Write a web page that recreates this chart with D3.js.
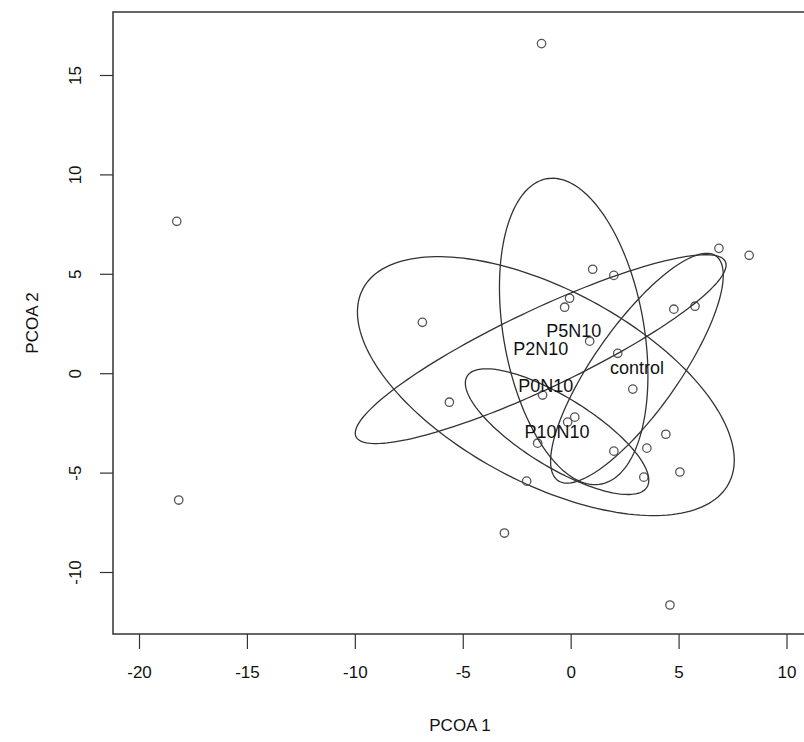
<!DOCTYPE html>
<html>
<head>
<meta charset="utf-8">
<script src="https://cdn.jsdelivr.net/npm/d3@7"></script>
<style>
  html, body { margin: 0; padding: 0; background: #fff; }
  svg { display: block; }
  text { font-family: "Liberation Sans", Arial, Helvetica, sans-serif; fill: #111; }
</style>
</head>
<body>
<script>
// Site scores on the first two PCoA axes
const pcoa1 = [-1.35, -18.25, -18.16, -6.87, -5.62, -3.07, -2.04, -1.53, -0.28, -0.05,
               1.02, 2.0, 0.88, 2.18, 2.88, 0.19, -0.14, 2.0, 3.53, 3.39,
               4.41, 5.06, 4.78, 5.76, 6.87, 8.27, 4.6, -1.3];
const pcoa2 = [16.58, 7.64, -6.38, 2.56, -1.46, -8.04, -5.43, -3.52, 3.32, 3.77,
               5.23, 4.92, 1.61, 1.0, -0.80, -2.21, -2.46, -3.92, -3.77, -5.23,
               -3.07, -4.97, 3.22, 3.37, 6.28, 5.93, -11.66, -1.1];

// Treatment groups: centroid and dispersion (covariance) of each ellipse
const groups  = ["P5N10", "P0N10", "P10N10", "P2N10", "control"];
const centerX = [0.14, -1.15, -0.63, -1.39, 3.07];
const centerY = [2.1, -0.65, -2.94, 1.21, 0.25];
const varX    = [11.83, 76.2, 18.06, 73.8, 16.0];
const varY    = [59.4, 42.4, 10.0, 22.56, 33.4];
const covXY   = [-7.6, -32.5, -10.37, 36.3, 18.7];

const xTicks = [-20, -15, -10, -5, 0, 5, 10];
const yTicks = [-10, -5, 0, 5, 10, 15];

const W = 804, H = 742;
const box = { left: 113, right: 807, top: 12, bottom: 634 };

const x = d3.scaleLinear().domain([-20, 10]).range([139, 786.5]);
const y = d3.scaleLinear().domain([-10, 15]).range([572, 75]);

// plain hyphen-minus for negative tick labels
const fmt = d => String(d);

const svg = d3.select("body").append("svg")
  .attr("width", W).attr("height", H);

// plot frame
svg.append("rect")
  .attr("x", box.left).attr("y", box.top)
  .attr("width", box.right - box.left).attr("height", box.bottom - box.top)
  .attr("fill", "none").attr("stroke", "#333").attr("stroke-width", 1.5);

// x axis
const xAxis = svg.append("g")
  .attr("transform", `translate(0,${box.bottom})`)
  .call(d3.axisBottom(x).tickValues(xTicks).tickSize(15).tickPadding(17).tickFormat(fmt));
xAxis.select(".domain").remove();
xAxis.selectAll(".tick line").attr("stroke", "#333").attr("stroke-width", 1.2);
xAxis.selectAll(".tick text").attr("font-size", 17).style("fill", "#111");

// y axis with rotated labels
const yAxis = svg.append("g")
  .attr("transform", `translate(${box.left},0)`)
  .call(d3.axisLeft(y).tickValues(yTicks).tickSize(13).tickFormat(fmt));
yAxis.select(".domain").remove();
yAxis.selectAll(".tick line").attr("stroke", "#333").attr("stroke-width", 1.2);
yAxis.selectAll(".tick text")
  .attr("font-size", 17).style("fill", "#111")
  .attr("x", 0).attr("dy", 0)
  .attr("text-anchor", "middle")
  .attr("transform", "translate(-38,0) rotate(-90)")
  .attr("dominant-baseline", "central");

// axis titles
svg.append("text")
  .attr("x", (box.left + box.right) / 2).attr("y", 731)
  .attr("text-anchor", "middle").attr("font-size", 17)
  .text("PCOA 1");
svg.append("text")
  .attr("transform", `translate(32,${(box.top + box.bottom) / 2}) rotate(-90)`)
  .attr("text-anchor", "middle").attr("dominant-baseline", "central")
  .attr("font-size", 17)
  .text("PCOA 2");

// points
const sites = pcoa1.map((v, i) => ({ px: v, py: pcoa2[i] }));
svg.append("g").selectAll("circle").data(sites).join("circle")
  .attr("cx", d => x(d.px)).attr("cy", d => y(d.py))
  .attr("r", 4.2)
  .attr("fill", "none").attr("stroke", "#555").attr("stroke-width", 1.3);

// dispersion ellipses
const ellipses = groups.map((g, i) => {
  const a = Math.sqrt(varX[i]);
  const b = covXY[i] / a;
  const c = Math.sqrt(varY[i] - b * b);
  const pts = d3.range(0, 2 * Math.PI, Math.PI / 90).map(t => [
    centerX[i] + a * Math.cos(t),
    centerY[i] + b * Math.cos(t) + c * Math.sin(t)
  ]);
  return { name: g, cx: centerX[i], cy: centerY[i], pts };
});

const line = d3.line().x(p => x(p[0])).y(p => y(p[1])).curve(d3.curveLinearClosed);

svg.append("g").selectAll("path").data(ellipses).join("path")
  .attr("d", d => line(d.pts))
  .attr("fill", "none").attr("stroke", "#333").attr("stroke-width", 1.3);

// group labels at centroids
svg.append("g").selectAll("text").data(ellipses).join("text")
  .attr("x", d => x(d.cx)).attr("y", d => y(d.cy))
  .attr("text-anchor", "middle").attr("dominant-baseline", "central")
  .attr("font-size", 18)
  .text(d => d.name);
</script>
</body>
</html>
